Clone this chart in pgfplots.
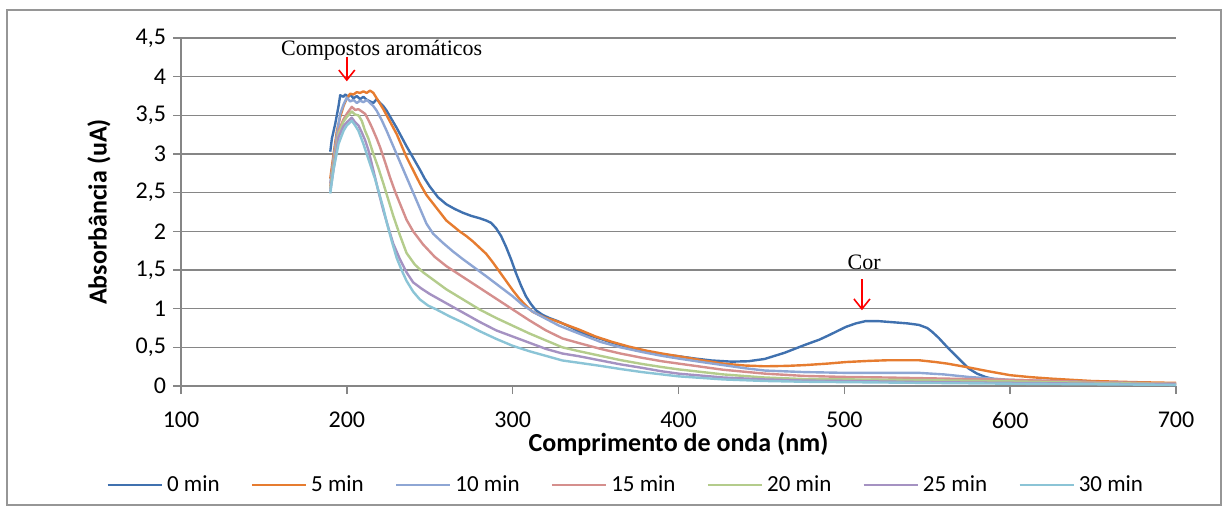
\documentclass[border=0pt]{standalone}
\usepackage{fontspec}
\setmainfont{Carlito}
\newfontfamily\timesf{Liberation Serif}
\usepackage{pgfplots}
\pgfplotsset{compat=1.18}
\usetikzlibrary{arrows.meta}
\definecolor{cA}{RGB}{64,113,175}
\definecolor{cB}{RGB}{230,124,48}
\definecolor{cC}{RGB}{142,166,212}
\definecolor{cD}{RGB}{213,143,141}
\definecolor{cE}{RGB}{180,204,140}
\definecolor{cF}{RGB}{165,146,194}
\definecolor{cG}{RGB}{139,196,214}
\definecolor{axgray}{RGB}{134,134,134}
\definecolor{framegray}{RGB}{150,150,150}
\begin{document}
\begin{tikzpicture}
\draw[framegray, line width=0.6pt] (3.5pt,5.5pt) rectangle (610.5pt,253pt);
\begin{axis}[
  at={(90.5pt,65pt)}, anchor=south west,
  scale only axis, width=497.5pt, height=174pt,
  xmin=100, xmax=700, ymin=0, ymax=4.5,
  xtick={100,200,300,400,500,600,700},
  ytick={0,0.5,1,1.5,2,2.5,3,3.5,4,4.5},
  axis x line=bottom, axis y line=left,
  axis line style={-, color=axgray, line width=0.7pt},
  tick align=outside, major tick length=4pt,
  tick style={axgray, line width=0.7pt},
  ymajorgrids, grid style={axgray, line width=0.8pt},
  /pgf/number format/assume math mode=true,
  /pgf/number format/use comma,
  /pgf/number format/fixed,
  ticklabel style={font=\fontsize{12}{14}\selectfont},
  xticklabel style={yshift=-5.5pt},
  xlabel={Comprimento de onda (nm)},
  ylabel={Absorbância (uA)},
  xlabel style={at={(axis description cs:0.5,-0.188)}, anchor=base, inner sep=0pt, font=\bfseries\fontsize{13}{15}\selectfont},
  ylabel style={at={(axis description cs:-0.0748,0.5)}, anchor=base, font=\bfseries\fontsize{13}{15}\selectfont},
  legend style={at={(axis description cs:0.448,-0.2845)}, anchor=center, draw=none, fill=none,
    font=\fontsize{11.5}{13}\selectfont,
    /tikz/every even column/.append style={column sep=13.5pt}},
  legend columns=7,
  legend image code/.code={\draw[#1, line width=1.3pt] (0pt,0pt) -- (27pt,0pt);},
  every axis plot/.append style={line width=1.2pt, line join=round},
  clip=false,
]
\addplot[cA] coordinates {
(190,3.03)(191,3.2)(193,3.39)(195,3.62)(196,3.76)(198,3.74)(199,3.77)(201,3.74)(202,3.77)(204,3.72)(206,3.75)(208,3.71)(210,3.74)(212,3.70)(214,3.68)(216,3.66)(218,3.71)(220,3.66)(222,3.62)(224,3.56)(227,3.45)(230,3.34)(233,3.22)(236,3.10)(240,2.95)(244,2.80)(247,2.68)(250,2.58)(255,2.44)(260,2.35)(265,2.29)(270,2.24)(275,2.20)(280,2.17)(284,2.14)(287,2.11)(290,2.04)(293,1.94)(296,1.80)(299,1.64)(302,1.46)(305,1.30)(308,1.16)(311,1.06)(314,0.98)(318,0.92)(322,0.88)(327,0.84)(332,0.79)(336,0.75)(341,0.69)(350,0.63)(360,0.56)(370,0.50)(380,0.45)(390,0.41)(400,0.385)(410,0.355)(420,0.33)(432,0.315)(442,0.32)(452,0.35)(464,0.43)(476,0.53)(485,0.60)(491,0.66)(501,0.765)(507,0.81)(513,0.84)(520,0.84)(526,0.83)(538,0.81)(545,0.79)(550,0.75)(553,0.70)(557,0.62)(560,0.55)(564,0.46)(568,0.376)(572,0.29)(575,0.225)(580,0.16)(585,0.117)(590,0.09)(595,0.073)(600,0.06)(650,0.03)(700,0.015)
};
\addlegendentry{0 min}
\addplot[cB] coordinates {
(190,2.68)(192,3.0)(194,3.3)(196,3.48)(198,3.62)(200,3.72)(202,3.78)(204,3.77)(206,3.80)(208,3.79)(210,3.81)(212,3.79)(214,3.82)(216,3.79)(218,3.72)(220,3.65)(222,3.58)(224,3.50)(227,3.38)(230,3.26)(233,3.11)(236,2.96)(240,2.79)(244,2.62)(248,2.47)(252,2.36)(256,2.25)(260,2.14)(264,2.07)(268,2.00)(272,1.94)(276,1.87)(280,1.79)(284,1.71)(288,1.60)(292,1.48)(296,1.36)(300,1.24)(304,1.13)(308,1.04)(312,0.96)(316,0.92)(320,0.88)(325,0.85)(330,0.81)(340,0.73)(350,0.64)(360,0.57)(370,0.51)(380,0.46)(390,0.42)(400,0.385)(415,0.33)(427,0.29)(440,0.265)(452,0.255)(465,0.26)(476,0.27)(490,0.29)(501,0.31)(515,0.325)(526,0.333)(545,0.333)(555,0.31)(562,0.29)(575,0.24)(587,0.19)(600,0.14)(612,0.115)(625,0.095)(649,0.065)(675,0.05)(700,0.04)
};
\addlegendentry{5 min}
\addplot[cC] coordinates {
(190,2.62)(192,2.95)(194,3.25)(196,3.52)(198,3.64)(200,3.73)(202,3.68)(204,3.70)(206,3.66)(208,3.69)(210,3.67)(212,3.70)(214,3.66)(216,3.62)(218,3.56)(221,3.44)(224,3.30)(227,3.15)(230,3.00)(233,2.85)(236,2.70)(240,2.50)(244,2.30)(248,2.10)(252,1.97)(258,1.85)(264,1.74)(270,1.64)(277,1.53)(284,1.42)(292,1.29)(300,1.16)(306,1.05)(313,0.95)(320,0.87)(328,0.78)(335,0.72)(341,0.67)(353,0.57)(365,0.50)(378,0.44)(390,0.39)(400,0.355)(414,0.31)(427,0.27)(440,0.23)(452,0.20)(476,0.18)(501,0.17)(525,0.17)(545,0.17)(560,0.15)(575,0.117)(600,0.08)(650,0.05)(700,0.03)
};
\addlegendentry{10 min}
\addplot[cD] coordinates {
(190,2.58)(192,2.9)(195,3.30)(198,3.45)(200,3.52)(203,3.61)(205,3.57)(207,3.58)(209,3.55)(211,3.52)(213,3.44)(215,3.35)(218,3.20)(220,3.09)(223,2.90)(226,2.70)(229,2.52)(232,2.36)(236,2.15)(240,2.0)(246,1.83)(253,1.67)(260,1.55)(270,1.41)(280,1.27)(290,1.13)(300,0.99)(310,0.85)(320,0.72)(330,0.615)(340,0.555)(353,0.48)(365,0.42)(378,0.365)(390,0.32)(400,0.29)(427,0.21)(452,0.16)(476,0.13)(501,0.117)(525,0.11)(550,0.10)(575,0.09)(600,0.08)(650,0.05)(700,0.03)
};
\addlegendentry{15 min}
\addplot[cE] coordinates {
(190,2.55)(192,2.85)(195,3.26)(198,3.42)(200,3.48)(203,3.55)(205,3.51)(207,3.50)(209,3.43)(211,3.30)(213,3.20)(216,3.00)(219,2.82)(222,2.62)(225,2.41)(228,2.20)(232,1.95)(236,1.72)(241,1.57)(246,1.47)(253,1.36)(260,1.25)(270,1.12)(280,0.99)(290,0.88)(300,0.78)(310,0.68)(320,0.59)(330,0.50)(340,0.45)(353,0.39)(365,0.335)(378,0.285)(390,0.245)(400,0.215)(427,0.15)(452,0.11)(476,0.09)(501,0.086)(550,0.075)(600,0.06)(650,0.04)(700,0.025)
};
\addlegendentry{20 min}
\addplot[cF] coordinates {
(190,2.52)(192,2.8)(195,3.22)(198,3.36)(200,3.41)(203,3.47)(205,3.41)(207,3.37)(209,3.28)(211,3.18)(213,3.05)(216,2.79)(219,2.52)(222,2.27)(225,2.05)(228,1.84)(232,1.64)(236,1.47)(240,1.34)(245,1.26)(250,1.19)(260,1.07)(270,0.95)(280,0.83)(290,0.72)(300,0.64)(310,0.56)(320,0.48)(330,0.42)(340,0.385)(353,0.33)(365,0.28)(378,0.235)(390,0.19)(400,0.16)(427,0.11)(452,0.085)(476,0.07)(501,0.065)(550,0.05)(600,0.04)(700,0.02)
};
\addlegendentry{25 min}
\addplot[cG] coordinates {
(190,2.49)(192,2.8)(195,3.13)(198,3.30)(200,3.37)(203,3.43)(205,3.37)(207,3.30)(210,3.13)(212,3.00)(214,2.87)(217,2.68)(219,2.53)(222,2.30)(224,2.12)(227,1.88)(230,1.66)(233,1.50)(236,1.36)(240,1.22)(244,1.12)(249,1.04)(254,0.99)(262,0.90)(270,0.82)(280,0.71)(290,0.61)(300,0.52)(310,0.45)(320,0.39)(330,0.33)(340,0.30)(353,0.26)(365,0.22)(378,0.18)(390,0.15)(400,0.125)(427,0.085)(452,0.065)(476,0.055)(501,0.05)(550,0.04)(600,0.03)(700,0.015)
};
\addlegendentry{30 min}
\node[font=\timesf\fontsize{11}{13}\selectfont, anchor=base] at (axis cs:221,4.27) {Compostos aromáticos};
\draw[red, line width=0.8pt, -{Straight Barb[length=5pt,width=8pt]}] (axis cs:200,4.26) -- (axis cs:200,3.94);
\node[font=\timesf\fontsize{11}{13}\selectfont, anchor=base] at (axis cs:512,1.51) {Cor};
\draw[red, line width=0.8pt, -{Straight Barb[length=5pt,width=8pt]}] (axis cs:510.6,1.38) -- (axis cs:510.6,0.98);
\end{axis}
\pgfresetboundingbox
\path (0,0) rectangle (612pt,258pt);
\end{tikzpicture}
\end{document}
